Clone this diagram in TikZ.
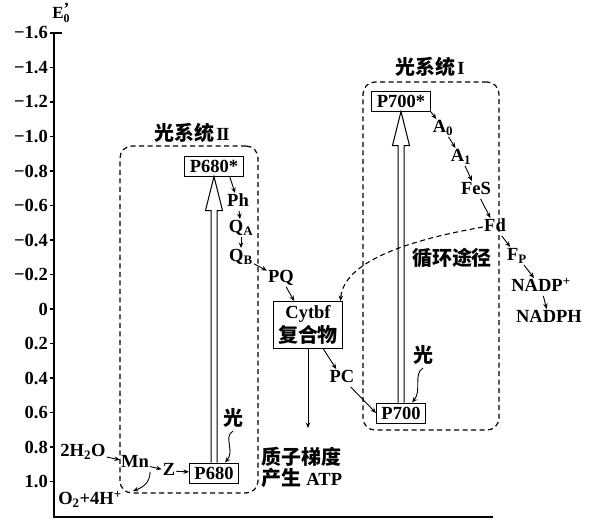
\documentclass[tikz,border=0pt]{standalone}
\usepackage{fontspec}
\setmainfont{Liberation Serif}
\newfontfamily\cjk[Scale=1.08]{Noto Sans CJK SC}
\newcommand\zh[1]{{\cjk\bfseries #1}}
\usetikzlibrary{arrows.meta, positioning}

\begin{document}
\begin{tikzpicture}[
  x=1pt, y=-1pt,
  font=\fontsize{18.5}{21}\selectfont\bfseries,
  pig/.style={draw, line width=1pt, inner xsep=5pt, inner ysep=2pt,
              minimum height=20pt},
  car/.style={inner sep=1pt, text height=12.5pt, text depth=3pt},
  sys/.style={font=\fontsize{18.5}{21}\selectfont\bfseries},
  psbox/.style={draw, line width=1.2pt, rounded corners=12pt,
                dash pattern=on 5pt off 3.5pt},
  arr/.style={-{Stealth[length=5.5pt, width=4.5pt]}, line width=0.9pt},
  hol/.style={line width=1pt, line join=miter},
  tk/.style={anchor=east, inner sep=1pt}]

  \useasboundingbox (0,0) rectangle (597,527);

  % energy scale
  \node[inner sep=0pt, font=\fontsize{17}{17}\selectfont\bfseries] (e0) at (61,13)
    {E\rlap{\raisebox{0.45ex}{'}}\raisebox{-0.5ex}{\fontsize{12}{12}\selectfont 0}};
  \draw[line width=1.4pt] (62,33) -- (54,33) -- (54,517) -- (493,517);
  \foreach \t [count=\i from 0] in {−1.6,−1.4,−1.2,−1.0,−0.8,−0.6,−0.4,
                                    −0.2,0,0.2,0.4,0.6,0.8,1.0} {
    \node[tk] (t\i) at (49,{33+34.5*\i}) {\t};
    \draw[line width=1.4pt] (50,{33+34.5*\i}) -- (54,{33+34.5*\i});
  }

  % photosystem II
  \node[psbox, minimum width=138pt, minimum height=347pt] (ps2) at (189,319.5) {};
  \node[sys] (s2) at (192,133) {\zh{光系统}\kern2pt I\kern-1.2pt I};
  \node[pig] (p680s) at (214,166) {P680*};
  \node[pig] (p680) at (214,473) {P680};
  \node[sys] (l2) at (233,418) {\zh{光}};
  \node[car] (ph) at (238,202) {Ph};
  \node[car] (qa) at (241,228) {Q\textsubscript{A}};
  \node[car] (qb) at (241,257) {Q\textsubscript{B}};
  \node[car] (h2o) at (83,452) {2H\textsubscript{2}O};
  \node[car] (mn) at (135,463) {Mn};
  \node[car] (z) at (169,471) {Z};
  \node[car] (o2) at (90,500) {O\textsubscript{2}+4H\textsuperscript{+}};

  % between the two systems
  \node[car] (pq) at (281,278) {PQ};
  \node[draw, line width=1pt, align=center, inner xsep=5pt, inner ysep=4pt,
        font=\fontsize{18.5}{24}\selectfont\bfseries] (cyt) at (308,325)
    {Cytbf\\ \zh{复合物}};
  \node[car] (pc) at (342,378) {PC};
  \coordinate (grad) at (308,428);
  \node[align=left, inner sep=1pt] (atp) at (302,467)
    {\zh{质子梯度}\\ \zh{产生} ATP};

  % photosystem I
  \node[psbox, minimum width=136pt, minimum height=348pt] (ps1) at (431,256) {};
  \node[sys] (s1) at (430,67) {\zh{光系统}\kern2pt I};
  \node[pig] (p700s) at (401,101) {P700*};
  \node[pig] (p700) at (401,413) {P700};
  \node[sys] (l1) at (423,355) {\zh{光}};
  \node[car] (a0) at (443,128) {A\textsubscript{0}};
  \node[car] (a1) at (461,157) {A\textsubscript{1}};
  \node[car] (fes) at (476,190) {FeS};
  \node[car] (fd) at (495,227) {Fd};
  \node[car] (fp) at (517,256) {F\textsubscript{P}};
  \node[car] (nadp) at (541,287) {NADP\textsuperscript{+}};
  \node[car] (nadph) at (549,318) {NADPH};
  \node[sys] (cyc) at (452,258) {\zh{循环途径}};

  % excitation
  \foreach \lo/\hi in {p680/p680s, p700/p700s}
    \draw[hol] ([xshift=-3pt]\lo.north) -- ([xshift=-3pt, yshift=-34pt]\hi.south)
      -- ([xshift=-8.5pt, yshift=-34pt]\hi.south) -- (\hi.south)
      -- ([xshift=8.5pt, yshift=-34pt]\hi.south)
      -- ([xshift=3pt, yshift=-34pt]\hi.south) -- ([xshift=3pt]\lo.north);
  \draw[arr] (l2.south) .. controls +(-10,6) and +(10,-12)
    .. ([xshift=-14pt]p680.north east);
  \draw[arr] (l1.south) .. controls +(-10,6) and +(10,-12)
    .. ([xshift=-14pt]p700.north east);

  % electron flow
  \draw[arr] (h2o) -- (mn);
  \draw[arr] (mn) -- (z);
  \draw[arr] (z) -- (p680);
  \draw[arr] (mn.south east) .. controls +(0,12) and +(8,-3)
    .. ([xshift=10pt]o2.north east);
  \draw[arr] ([xshift=-14pt]p680s.south east) -- (ph);
  \draw[arr] (ph) -- (qa);
  \draw[arr] (qa) -- (qb);
  \draw[arr] (qb) -- (pq);
  \draw[arr] (pq) -- (cyt);
  \draw[arr] (cyt) -- (pc);
  \draw[arr] (pc) -- (p700.west);
  \draw[arr] (cyt.south) -- (grad);
  \draw[arr] (p700s.south east) -- (a0);
  \draw[arr] (a0) -- (a1);
  \draw[arr] (a1) -- (fes);
  \draw[arr] (fes) -- (fd);
  \draw[arr] (fd) -- (fp);
  \draw[arr] (fp) -- (nadp);
  \draw[arr] (nadp) -- (nadph);
  \draw[arr, line width=1.1pt, dash pattern=on 5pt off 3.5pt] (fd.west)
    .. controls +(-80,14) and +(3,-38) .. ([xshift=-3pt]cyt.north east);
\end{tikzpicture}
\end{document}
